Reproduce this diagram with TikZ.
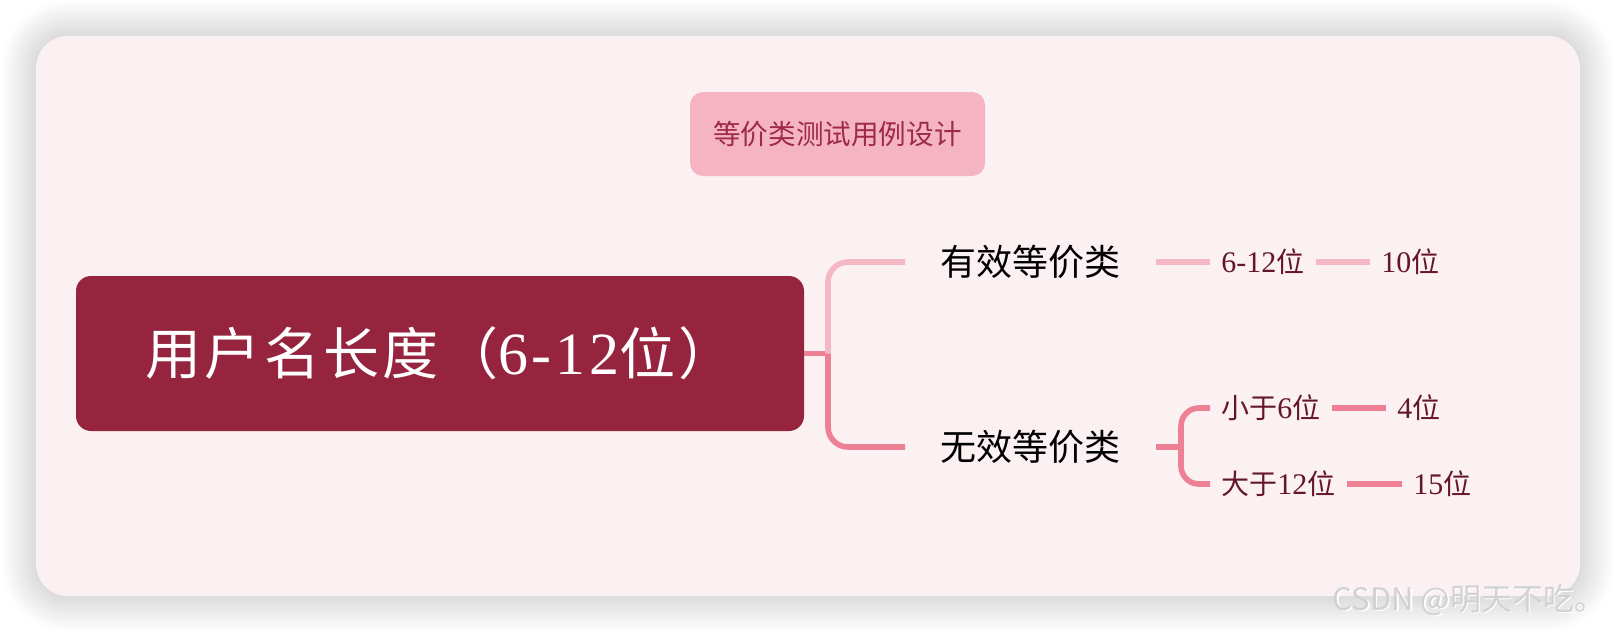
\documentclass[tikz,border=0pt]{standalone}
\usepackage{fontspec}
\setmainfont{Liberation Serif}
\newfontfamily\cjk{Noto Sans CJK SC}
\newfontfamily\cjkwide{Noto Sans CJK SC}[LetterSpace=6]
\newfontfamily\dig{Liberation Serif}[Scale=1.07]
\newfontfamily\digwide{Liberation Serif}[Scale=1.07,LetterSpace=6]
\definecolor{cardbg}{HTML}{FBF0F2}
\definecolor{titlefill}{HTML}{F5B4C1}
\definecolor{titletext}{HTML}{9E2A48}
\definecolor{rootfill}{HTML}{96243E}
\definecolor{lightln}{HTML}{F5B7C3}
\definecolor{darkln}{HTML}{EE8096}
\definecolor{leaftext}{HTML}{651728}
\definecolor{wmark}{HTML}{D2D2D2}
\tikzset{
  cardbox/.style={fill=cardbg, rounded corners=16pt, inner sep=0pt},
  titlebox/.style={fill=titlefill, rounded corners=6.5pt, text=titletext, inner sep=0pt,
    font=\cjk\fontsize{13.8}{16}\selectfont},
  rootbox/.style={fill=rootfill, rounded corners=7.5pt, text=white, inner sep=0pt,
    font=\cjkwide\fontsize{28}{32}\selectfont},
  branch/.style={anchor=west, inner xsep=17.5pt, inner ysep=0pt, text=black,
    font=\cjk\fontsize{18}{20}\selectfont, text height=15.84pt, text depth=2.16pt},
  leaf/.style={anchor=west, inner xsep=5.5pt, inner ysep=0pt, text=leaftext,
    font=\cjk\fontsize{14}{16}\selectfont, text height=12.32pt, text depth=1.68pt},
  lightline/.style={draw=lightln, line width=2.8pt, rounded corners=10pt},
  darkline/.style={draw=darkln, line width=2.8pt, rounded corners=10pt},
  lightleaf/.style={draw=lightln, line width=2.8pt},
  darkleaf/.style={draw=darkln, line width=2.8pt, rounded corners=9pt},
  wmtext/.style={inner sep=0pt, font=\cjk\fontsize{15.5}{17}\selectfont},
}
\begin{document}
\begin{tikzpicture}[x=0.5pt, y=-0.5pt]
\fill[white] (0,0) rectangle (1616,632);
\useasboundingbox (0,0) rectangle (1616,632);
% soft shadow
\foreach \i in {1,...,17} {
  \pgfmathsetmacro{\r}{16+\i}
  \fill[black, opacity=0.0085, rounded corners=\r pt] (36-2*\i,35-2*\i) rectangle (1580+2*\i,597+2*\i);
}
\node[cardbox, minimum width=772pt, minimum height=280pt] (card) at (808,316) {};
\node[titlebox, minimum width=147.5pt, minimum height=42pt] (title) at (837.5,134) {等价类测试用例设计};
\node[rootbox, minimum width=364pt, minimum height=77.5pt] (root) at (440,353.5) {用户名长度（{\digwide 6-12}位）};
\node[branch] (valid) at (905,262) {有效等价类};
\node[branch] (invalid) at (905,447) {无效等价类};
\node[leaf] (l1) at (1210,262) {{\dig 6-12}位};
\node[leaf] (l1a) at (1370,262) {{\dig 10}位};
\node[leaf] (l2) at (1210,408) {小于{\dig 6}位};
\node[leaf] (l2a) at (1386,408) {{\dig 4}位};
\node[leaf] (l3) at (1210,484) {大于{\dig 12}位};
\node[leaf] (l3a) at (1402,484) {{\dig 15}位};
\coordinate (j1) at (828,353.5);
\coordinate (j2) at (1181,447);
\draw[darkline] (root.east) -- (j1);
\draw[lightline] (j1) |- (valid.west);
\draw[darkline] (j1) |- (invalid.west);
\draw[lightleaf] (valid.east) -- (l1.west);
\draw[lightleaf] (l1.east) -- (l1a.west);
\draw[darkleaf] (invalid.east) -- (j2);
\draw[darkleaf] (j2) |- (l2.west);
\draw[darkleaf] (j2) |- (l3.west);
\draw[darkleaf] (l2.east) -- (l2a.west);
\draw[darkleaf] (l3.east) -- (l3a.west);
\node[wmtext, text=white] at (1470.5,601.5) {CSDN @明天不吃。};
\node[wmtext, text=wmark] (wm) at (1469,600) {CSDN @明天不吃。};
\end{tikzpicture}
\end{document}
